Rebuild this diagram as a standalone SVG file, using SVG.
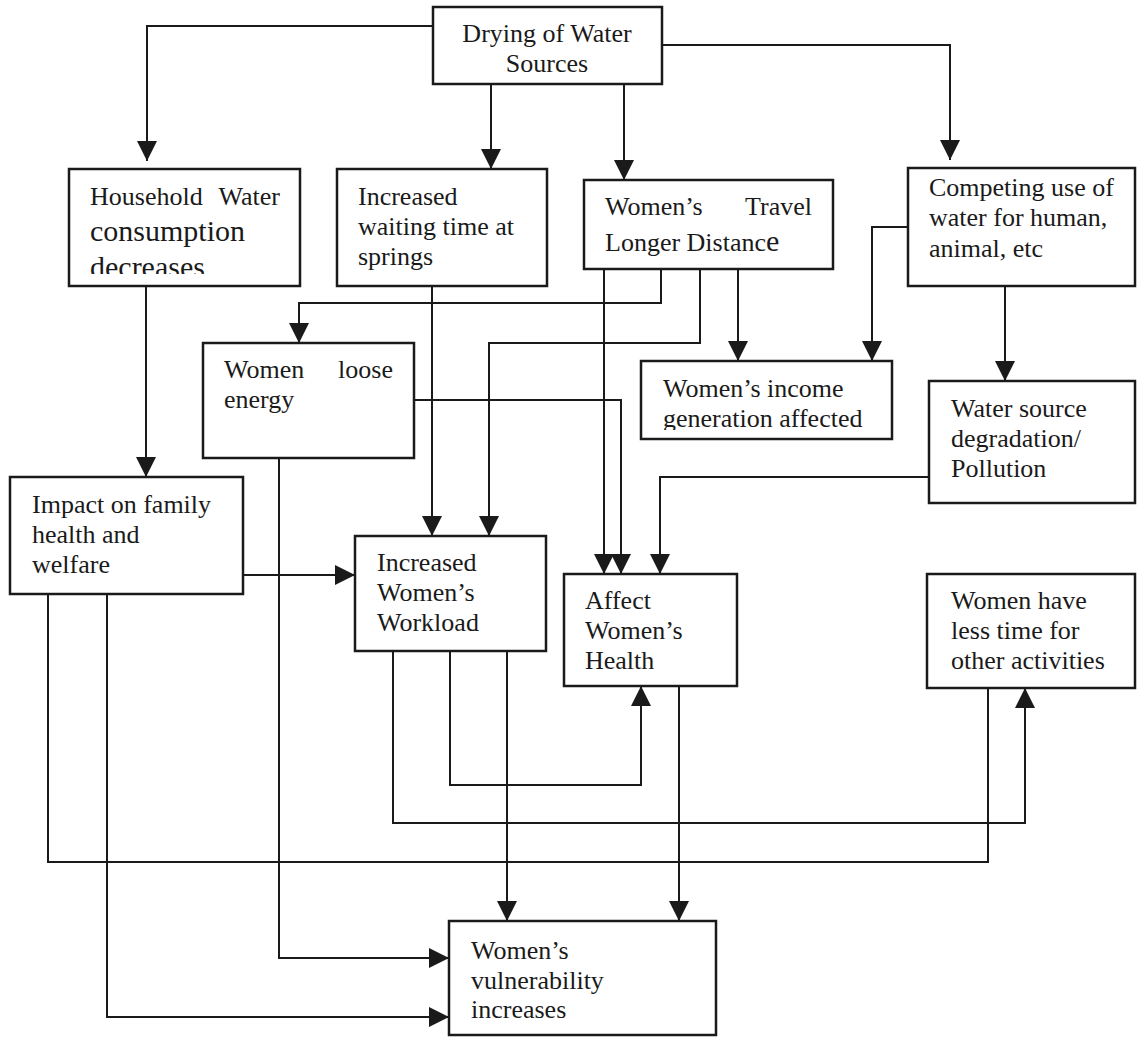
<svg xmlns="http://www.w3.org/2000/svg" width="1137" height="1038" viewBox="0 0 1137 1038">
<style>
.box{fill:#fff;stroke:#1a1a1a;stroke-width:2.5}
.t{font-family:"Liberation Serif","Times New Roman",serif;font-size:26px;fill:#1a1a1a}
.big{font-size:30px}
.c{fill:none;stroke:#1a1a1a;stroke-width:2}
</style>
<defs>
<marker id="ah" viewBox="0 0 20 20" refX="20" refY="10" markerWidth="20" markerHeight="20" markerUnits="userSpaceOnUse" orient="auto">
<path d="M0,0 L20,10 L0,20 z" fill="#1a1a1a"/>
</marker>
<clipPath id="clipHH"><rect x="69" y="169" width="231" height="105"/></clipPath>
<clipPath id="clipInc"><rect x="641" y="361" width="251" height="69"/></clipPath>
</defs>
<rect width="1137" height="1038" fill="#fff"/>
<g id="connectors">
<path class="c" marker-end="url(#ah)" d="M433,26 H147 V161"/>
<path class="c" marker-end="url(#ah)" d="M491,84 V169"/>
<path class="c" marker-end="url(#ah)" d="M624,84 V180"/>
<path class="c" marker-end="url(#ah)" d="M662,45 H950 V160"/>
<path class="c" marker-end="url(#ah)" d="M146,286 V477"/>
<path class="c" marker-end="url(#ah)" d="M432,286 V536"/>
<path class="c" marker-end="url(#ah)" d="M661,269 V303 H299 V343"/>
<path class="c" marker-end="url(#ah)" d="M700,269 V343 H489 V536"/>
<path class="c" marker-end="url(#ah)" d="M604,269 V574"/>
<path class="c" marker-end="url(#ah)" d="M738,269 V361"/>
<path class="c" marker-end="url(#ah)" d="M908,227 H872 V361"/>
<path class="c" marker-end="url(#ah)" d="M1005,286 V381"/>
<path class="c" marker-end="url(#ah)" d="M414,400 H621 V574"/>
<path class="c" marker-end="url(#ah)" d="M279,458 V958 H449"/>
<path class="c" marker-end="url(#ah)" d="M929,477 H660 V574"/>
<path class="c" marker-end="url(#ah)" d="M243,575 H355"/>
<path class="c" marker-end="url(#ah)" d="M107,594 V1017 H449"/>
<path class="c" d="M48,594 V862 H988 V688"/>
<path class="c" marker-end="url(#ah)" d="M393,651 V823 H1025 V688"/>
<path class="c" marker-end="url(#ah)" d="M450,651 V785 H641 V686"/>
<path class="c" marker-end="url(#ah)" d="M507,651 V921"/>
<path class="c" marker-end="url(#ah)" d="M679,686 V921"/>
</g>
<g id="n-drying">
<rect class="box" x="433" y="7" width="229" height="77"/>
<text class="t" x="547" y="42" text-anchor="middle">Drying of Water</text>
<text class="t" x="547" y="72" text-anchor="middle">Sources</text>
</g>
<g id="n-household">
<rect class="box" x="69" y="169" width="231" height="117"/>
<text class="t" x="90" y="205">Household</text>
<text class="t" x="280" y="205" text-anchor="end">Water</text>
<text class="t big" x="90" y="241">consumption</text>
<text class="t big" x="90" y="277" clip-path="url(#clipHH)">decreases</text>
</g>
<g id="n-waiting">
<rect class="box" x="337" y="169" width="210" height="117"/>
<text class="t" x="358" y="205">Increased</text>
<text class="t" x="358" y="235">waiting time at</text>
<text class="t" x="358" y="265">springs</text>
</g>
<g id="n-travel">
<rect class="box" x="584" y="180" width="249" height="89"/>
<text class="t" x="605" y="215">Women’s</text>
<text class="t" x="812" y="215" text-anchor="end">Travel</text>
<text class="t" x="605" y="251">Longer Distanc<tspan class="big">e</tspan></text>
</g>
<g id="n-competing">
<rect class="box" x="908" y="168" width="227" height="118"/>
<text class="t" x="929" y="196">Competing use of</text>
<text class="t" x="929" y="226">water for human,</text>
<text class="t" x="929" y="257">animal, etc</text>
</g>
<g id="n-energy">
<rect class="box" x="203" y="343" width="211" height="115"/>
<text class="t" x="224" y="378">Women</text>
<text class="t" x="393" y="378" text-anchor="end">loose</text>
<text class="t" x="224" y="408">energy</text>
</g>
<g id="n-income">
<rect class="box" x="641" y="361" width="251" height="78"/>
<text class="t" x="663" y="397">Women’s income</text>
<text class="t" x="663" y="427" clip-path="url(#clipInc)">generation affected</text>
</g>
<g id="n-watersource">
<rect class="box" x="929" y="381" width="206" height="122"/>
<text class="t" x="951" y="417">Water source</text>
<text class="t" x="951" y="447">degradation/</text>
<text class="t" x="951" y="477">Pollution</text>
</g>
<g id="n-impact">
<rect class="box" x="10" y="477" width="233" height="117"/>
<text class="t" x="32" y="513">Impact on family</text>
<text class="t" x="32" y="543">health and</text>
<text class="t" x="32" y="573">welfare</text>
</g>
<g id="n-workload">
<rect class="box" x="355" y="536" width="191" height="115"/>
<text class="t" x="377" y="571">Increased</text>
<text class="t" x="377" y="601">Women’s</text>
<text class="t" x="377" y="631">Workload</text>
</g>
<g id="n-health">
<rect class="box" x="564" y="574" width="173" height="112"/>
<text class="t" x="585" y="609">Affect</text>
<text class="t" x="585" y="639">Women’s</text>
<text class="t" x="585" y="669">Health</text>
</g>
<g id="n-lesstime">
<rect class="box" x="927" y="574" width="208" height="114"/>
<text class="t" x="951" y="609">Women have</text>
<text class="t" x="951" y="639">less time for</text>
<text class="t" x="951" y="669">other activities</text>
</g>
<g id="n-vulnerability">
<rect class="box" x="449" y="921" width="267" height="114"/>
<text class="t" x="471" y="959">Women’s</text>
<text class="t" x="471" y="989">vulnerability</text>
<text class="t" x="471" y="1018">increases</text>
</g>
</svg>
